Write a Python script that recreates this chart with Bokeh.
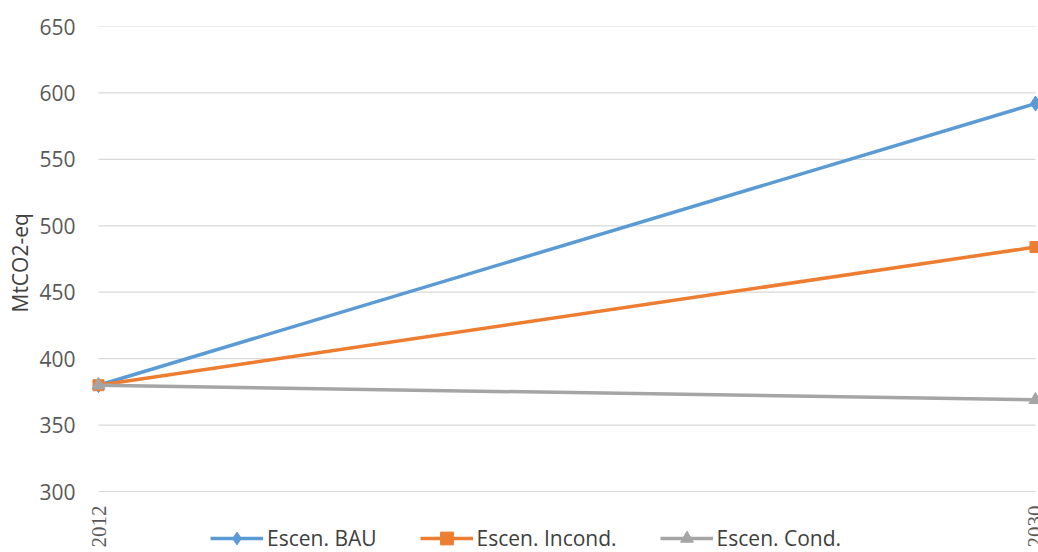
from bokeh.plotting import figure
from bokeh.models import FixedTicker, Legend, LegendItem, Range1d, Title
from bokeh.embed import file_html
from bokeh.resources import INLINE
import math

years = [2012, 2030]
year_labels = ["2012", "2030"]
bau = [380, 592]
incond = [380, 484]
cond = [380, 369]
y_ticks = [300, 350, 400, 450, 500, 550, 600, 650]
y_label = "MtCO2-eq"

FONT = "Open Sans"
TXT = "#595959"
FS = "21px"

# frame spans the whole lower area so that the legend and year labels can sit inside it
p = figure(width=1038, height=552, output_backend="svg", toolbar_location=None,
           x_range=Range1d(2011.731, 2030.058), y_range=Range1d(254.1, 650),
           min_border_left=84, min_border_right=0, min_border_top=26, min_border_bottom=0)
p.title.visible = False
p.outline_line_color = None
p.xgrid.visible = False
p.ygrid.visible = False
p.xaxis.visible = False

# horizontal grid lines spanning the category axis
n = len(y_ticks)
p.segment(x0=[years[0]] * n, x1=[years[-1]] * n, y0=y_ticks, y1=y_ticks,
          line_color="#D9D9D9", line_width=1.2)

p.yaxis.ticker = FixedTicker(ticks=y_ticks)
p.yaxis.axis_line_color = None
p.yaxis.major_tick_line_color = None
p.yaxis.minor_tick_line_color = None
p.yaxis.major_label_text_font = FONT
p.yaxis.major_label_text_font_size = FS
p.yaxis.major_label_text_color = TXT
p.yaxis.major_label_standoff = 3

t = Title(text=y_label, align="left", offset=240, vertical_align="middle",
          text_font=FONT, text_font_size=FS, text_font_style="normal",
          text_color="#404040", standoff=4)
p.add_layout(t, "left")

# category (year) labels, rotated, under the lowest grid line
p.text(x=years, y=[y_ticks[0]] * len(years), text=year_labels, angle=math.pi / 2,
       text_align="right", text_baseline="middle", y_offset=14,
       text_font=FONT, text_font_size=FS, text_color=TXT)

series = [
    ("Escen. BAU", bau, "#5B9BD5", "diamond", 15),
    ("Escen. Incond.", incond, "#ED7D31", "square", 11),
    ("Escen. Cond.", cond, "#A5A5A5", "triangle", 13),
]
items = []
for name, vals, color, marker, size in series:
    l = p.line(years, vals, line_color=color, line_width=3.5)
    s = p.scatter(years, vals, marker=marker, size=size, fill_color=color, line_color=color)
    items.append(LegendItem(label=name, renderers=[l, s]))

legend = Legend(items=items, orientation="horizontal", location=(126, -2),
                glyph_width=53, glyph_height=32, label_standoff=4, spacing=43,
                padding=0, margin=0, border_line_color=None, background_fill_alpha=0,
                label_text_font=FONT, label_text_font_size=FS, label_text_color="#404040")
p.add_layout(legend, "center")

open("out.html", "w").write(file_html(p, INLINE))
